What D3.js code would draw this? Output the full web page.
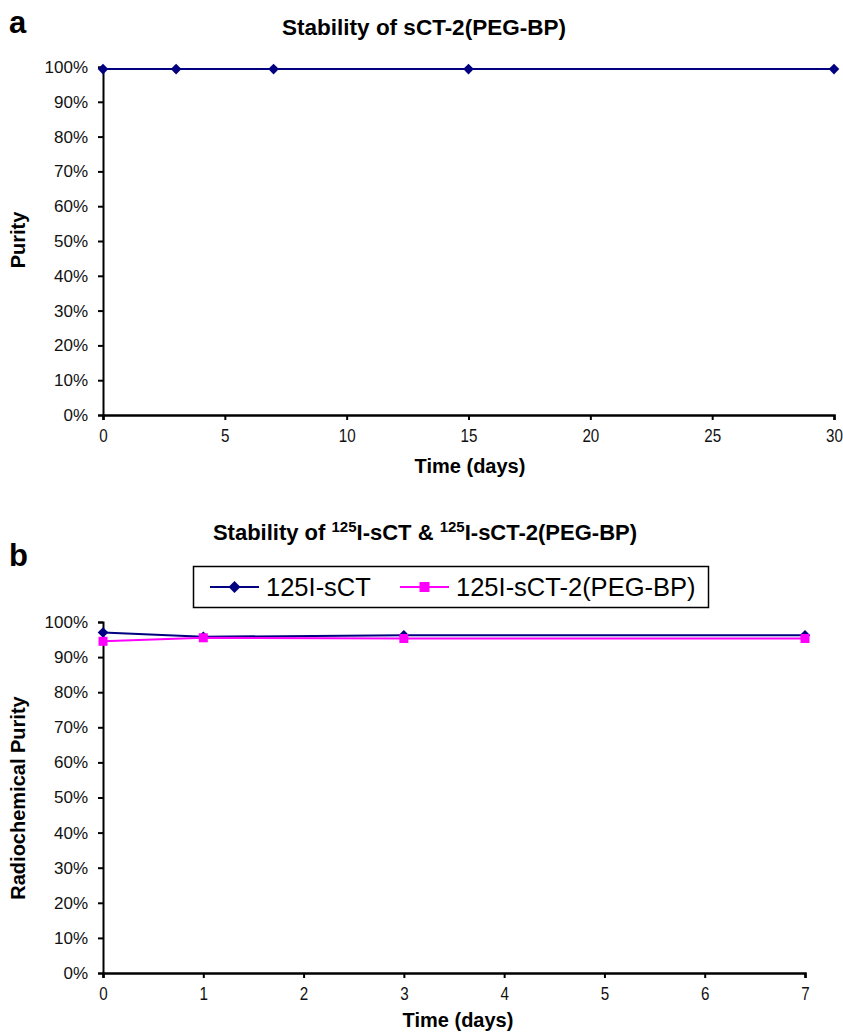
<!DOCTYPE html>
<html>
<head>
<meta charset="utf-8">
<script src="https://cdn.jsdelivr.net/npm/d3@7"></script>
<style>
  body { margin: 0; background: #fff; }
  svg { font-family: "Liberation Sans", Arial, sans-serif; }
</style>
</head>
<body>
<svg id="chart" width="843" height="1033"></svg>
<script>
// data
const daysA   = [0, 3, 7, 15, 30];
const purityA = [0.994, 0.994, 0.994, 0.994, 0.994];

const daysB   = [0, 1, 3, 7];
const sctB    = [0.970, 0.958, 0.962, 0.962];
const pegB    = [0.945, 0.955, 0.953, 0.953];
const seriesB = [
  { name: "125I-sCT",           values: sctB, color: "#000080", shape: "diamond" },
  { name: "125I-sCT-2(PEG-BP)", values: pegB, color: "#FF00FF", shape: "square" }
];

const xTicksA = [0, 5, 10, 15, 20, 25, 30];
const xTicksB = [0, 1, 2, 3, 4, 5, 6, 7];
const yTicks  = d3.range(0, 1.01, 0.1);

const svg = d3.select("#chart");
svg.append("rect").attr("width", 843).attr("height", 1033).attr("fill", "#fff");

// diamond = rotated square, like excel
function marker(sel, shape, side) {
  sel.attr("d", d3.symbol(d3.symbolSquare, side * side))
     .attr("transform", function() {
       const t = d3.select(this).attr("transform") || "";
       return shape === "diamond" ? t + " rotate(45)" : t;
     });
}

function panel(opts) {
  const x = d3.scaleLinear().domain(opts.xDomain).range([103, opts.xRight]);
  const y = d3.scaleLinear().domain([0, 1]).range([opts.yBottom, opts.yTop]);
  const g = svg.append("g");

  // y axis
  g.append("g")
    .attr("transform", "translate(103,0)")
    .call(d3.axisLeft(y).tickValues(yTicks).tickFormat(d3.format(".0%")).tickSize(5).tickPadding(10))
    .call(a => a.selectAll(".domain").attr("stroke", "#000").attr("stroke-width", 2))
    .call(a => a.selectAll(".tick line").attr("stroke", "#000").attr("stroke-width", 2))
    .call(a => a.selectAll(".tick text")
      .style("font-size", "17px").style("font-family", "Liberation Sans, Arial, sans-serif")
      .attr("fill", "#111"));

  // x axis
  g.append("g")
    .attr("transform", `translate(0,${opts.yBottom})`)
    .call(d3.axisBottom(x).tickValues(opts.xTicks).tickFormat(d3.format("d")).tickSize(5).tickPadding(9))
    .call(a => a.selectAll(".domain").attr("stroke", "#000").attr("stroke-width", 2.5))
    .call(a => a.selectAll(".tick line").attr("stroke", "#000").attr("stroke-width", 2))
    .call(a => a.selectAll(".tick text")
      .style("font-size", "19px").style("font-family", "Liberation Sans, Arial, sans-serif")
      .attr("fill", "#111")
      .attr("transform", "scale(0.8,1)"));

  // x label
  g.append("text")
    .attr("x", opts.xLabelX).attr("y", opts.yBottom + opts.xLabelDy)
    .attr("text-anchor", "middle")
    .attr("font-weight", "bold").style("font-size", "20px")
    .text("Time (days)");

  // y label
  g.append("text")
    .attr("transform", `translate(25,${opts.yLabelY}) rotate(-90)`)
    .attr("text-anchor", "middle")
    .attr("font-weight", "bold").style("font-size", "20px")
    .text(opts.yLabel);

  return { x, y, g };
}

// panel a
const pa = panel({ xDomain: [0, 30], xRight: 834, yTop: 67, yBottom: 415,
                   xTicks: xTicksA, xLabelX: 470, xLabelDy: 58,
                   yLabel: "Purity", yLabelY: 240 });

const ptsA = daysA.map((d, i) => [d, purityA[i]]);
pa.g.append("path")
  .datum(ptsA)
  .attr("fill", "none").attr("stroke", "#000080").attr("stroke-width", 2)
  .attr("d", d3.line().x(d => pa.x(d[0])).y(d => pa.y(d[1])));

pa.g.selectAll("path.mk")
  .data(ptsA)
  .join("path")
    .attr("class", "mk")
    .attr("transform", d => `translate(${pa.x(d[0])},${pa.y(d[1])})`)
    .attr("fill", "#000080")
    .call(marker, "diamond", 7.5);

svg.append("text").attr("x", 424).attr("y", 35)
  .attr("text-anchor", "middle").attr("font-weight", "bold").style("font-size", "22.5px")
  .text("Stability of sCT-2(PEG-BP)");
svg.append("text").attr("x", 9).attr("y", 33)
  .attr("font-weight", "bold").style("font-size", "31px").text("a");

// panel b
const pb = panel({ xDomain: [0, 7], xRight: 805, yTop: 622, yBottom: 973,
                   xTicks: xTicksB, xLabelX: 458, xLabelDy: 54,
                   yLabel: "Radiochemical Purity", yLabelY: 798 });

seriesB.forEach(s => {
  const pts = daysB.map((d, i) => [d, s.values[i]]);
  pb.g.append("path")
    .datum(pts)
    .attr("fill", "none").attr("stroke", s.color).attr("stroke-width", 2)
    .attr("d", d3.line().x(d => pb.x(d[0])).y(d => pb.y(d[1])));
  pb.g.selectAll(null)
    .data(pts)
    .join("path")
      .attr("transform", d => `translate(${pb.x(d[0])},${pb.y(d[1])})`)
      .attr("fill", s.color)
      .call(marker, s.shape, s.shape === "square" ? 9 : 7.5);
});

const tb = svg.append("text").attr("x", 425).attr("y", 540)
  .attr("text-anchor", "middle").attr("font-weight", "bold").style("font-size", "22px");
tb.append("tspan").text("Stability of ");
tb.append("tspan").style("font-size", "15px").attr("dy", -8).text("125");
tb.append("tspan").attr("dy", 8).text("I-sCT & ");
tb.append("tspan").style("font-size", "15px").attr("dy", -8).text("125");
tb.append("tspan").attr("dy", 8).text("I-sCT-2(PEG-BP)");

svg.append("text").attr("x", 9).attr("y", 566)
  .attr("font-weight", "bold").style("font-size", "31px").text("b");

// legend
const lg = svg.append("g");
lg.append("rect").attr("x", 193.5).attr("y", 566.5).attr("width", 515).attr("height", 41)
  .attr("fill", "#fff").attr("stroke", "#000").attr("stroke-width", 1.5);
const legX = [210, 400];
seriesB.forEach((s, i) => {
  const x0 = legX[i];
  lg.append("line").attr("x1", x0).attr("x2", x0 + 49).attr("y1", 587).attr("y2", 587)
    .attr("stroke", s.color).attr("stroke-width", 2);
  lg.append("path").attr("transform", `translate(${x0 + 24.5},587)`)
    .attr("fill", s.color)
    .call(marker, s.shape, s.shape === "square" ? 10 : 8.5);
  lg.append("text").attr("x", x0 + 56).attr("y", 596)
    .style("font-size", "25.5px").text(s.name);
});
</script>
</body>
</html>
